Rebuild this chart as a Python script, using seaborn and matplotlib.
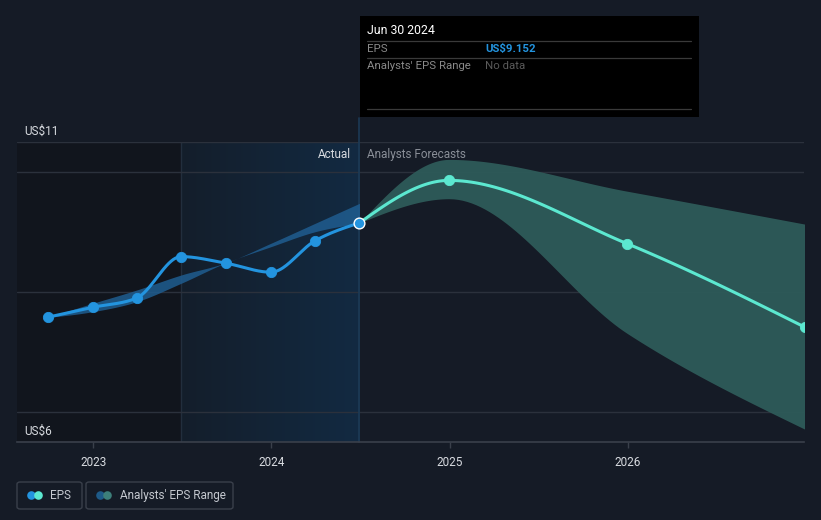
import numpy as np
import pandas as pd
import matplotlib
matplotlib.use("Agg")
import matplotlib.pyplot as plt
import seaborn as sns
from matplotlib.patches import FancyBboxPatch, Rectangle, Ellipse
from matplotlib.lines import Line2D
from matplotlib.colors import LinearSegmentedColormap

# ---------------- data ----------------
actual_dates = ["2022-09-30", "2022-12-31", "2023-03-31", "2023-06-30",
                "2023-09-30", "2023-12-31", "2024-03-31", "2024-06-30"]
actual_eps = [7.58, 7.745, 7.90, 8.59, 8.48, 8.33, 8.855, 9.152]

past_low = [7.578, 7.672, 7.838, 8.145, 8.488, 8.755, 9.005, 9.145]
past_high = [7.578, 7.812, 8.033, 8.283, 8.488, 8.812, 9.145, 9.478]

forecast_dates = ["2024-06-30", "2024-12-31", "2025-12-31", "2026-12-31"]
forecast_eps = [9.152, 9.86, 8.805, 7.41]
forecast_low = [9.152, 9.555, 7.31, 5.71]
forecast_high = [9.152, 10.21, 9.68, 9.13]

year_ticks = [2023, 2024, 2025, 2026]
y_labels = ["US$11", "US$6"]

# ---------------- helpers ----------------
def to_year(dates):
    ts = pd.to_datetime(pd.Series(dates))
    days = np.where(ts.dt.is_leap_year, 366, 365)
    return (ts.dt.year + (ts.dt.dayofyear - 1) / days).to_numpy(dtype=float)


def monotone(x, y, n=40):
    x = np.asarray(x, float)
    y = np.asarray(y, float)
    h = np.diff(x)
    d = np.diff(y) / h
    m = np.zeros(len(x))
    for i in range(1, len(x) - 1):
        if d[i - 1] * d[i] <= 0:
            m[i] = 0.0
        else:
            p = (d[i - 1] * h[i] + d[i] * h[i - 1]) / (h[i - 1] + h[i])
            m[i] = (np.sign(d[i - 1]) + np.sign(d[i])) * min(abs(d[i - 1]), abs(d[i]), 0.5 * abs(p))
    m[0] = (3 * d[0] - m[1]) / 2 if len(x) > 2 else d[0]
    m[-1] = (3 * d[-1] - m[-2]) / 2 if len(x) > 2 else d[-1]
    xs, ys = [], []
    for i in range(len(x) - 1):
        t = np.linspace(0, 1, n, endpoint=(i == len(x) - 2))
        h00 = 2 * t**3 - 3 * t**2 + 1
        h10 = t**3 - 2 * t**2 + t
        h01 = -2 * t**3 + 3 * t**2
        h11 = t**3 - t**2
        xs.append(x[i] + t * h[i])
        ys.append(h00 * y[i] + h10 * h[i] * m[i] + h01 * y[i + 1] + h11 * h[i] * m[i + 1])
    return np.concatenate(xs), np.concatenate(ys)


# ---------------- style ----------------
BG = "#151b26"
DARK = "#11151d"
GRID = "#2b313c"
BLUE = "#2394df"
TEAL = "#5ce8d0"
TXT = "#d8dbe0"
GREY = "#8a8f98"

sns.set_theme(style="dark")
plt.rcParams["font.family"] = ["Roboto", "DejaVu Sans"]

W, H = 821, 520
fig = plt.figure(figsize=(W / 100, H / 100), dpi=100, facecolor=BG)
ax = fig.add_axes([17 / W, (H - 442) / H, (804 - 17) / W, 300 / H])
ax.set_facecolor(BG)

x_min, x_max = 2022.572, 2026.99
ax.set_xlim(x_min, x_max)
ax.set_ylim(5.5, 10.5)

xa = to_year(actual_dates)
xf = to_year(forecast_dates)
split = xa[-1]
region_start = xa[3]

# background regions
ax.axvspan(x_min, region_start, color=DARK, zorder=0.1, lw=0)
grad = np.linspace(0, 1, 256).reshape(1, -1)
cmap = LinearSegmentedColormap.from_list("g", ["#141e2b", "#122a42"])
ax.imshow(grad, extent=[region_start, split, 5.5, 10.5], aspect="auto",
          cmap=cmap, zorder=0.2, interpolation="bilinear")
ax.axvline(region_start, color="#222e3d", lw=1, zorder=0.3)

# gridlines
for gy in [6, 8, 10, 10.5]:
    ax.axhline(gy, color=GRID, lw=1, zorder=0.5)

# vertical "today" line extending to tooltip
ax.add_line(Line2D([split, split], [5.5, 10.5 + 24 / 60], color="#1c3a56", lw=1.2,
                   zorder=0.6, clip_on=False))

# past analyst range band
bx, bl = monotone(xa, past_low)
_, bh = monotone(xa, past_high)
ax.fill_between(bx, bl, bh, color="#1f5d90", alpha=0.85, lw=0, zorder=1)

# forecast range band
fx, fl = monotone(xf, forecast_low)
_, fh = monotone(xf, forecast_high)
ax.fill_between(fx, fl, fh, color="#2e5b59", alpha=0.95, lw=0, zorder=1)

# lines
lx, ly = monotone(xa, actual_eps)
sns.lineplot(x=lx, y=ly, ax=ax, color=BLUE, lw=2.2, zorder=3, sort=False)
sns.scatterplot(x=xa[:-1], y=actual_eps[:-1], ax=ax, color=BLUE, s=55,
                edgecolor=BLUE, zorder=4)
gx, gyv = monotone(xf, forecast_eps)
sns.lineplot(x=gx, y=gyv, ax=ax, color=TEAL, lw=2.2, zorder=3, sort=False)
sns.scatterplot(x=xf[1:], y=forecast_eps[1:], ax=ax, color=TEAL, s=55,
                edgecolor=TEAL, zorder=4)
sns.scatterplot(x=[xa[-1]], y=[actual_eps[-1]], ax=ax, color=BLUE, s=60,
                edgecolor="white", linewidth=1.0, zorder=5)

# axes styling
ax.set_yticks([])
ax.set_xticks(year_ticks)
ax.set_xticklabels([str(y) for y in year_ticks], color=TXT, fontsize=8.5)
ax.tick_params(axis="x", length=4, width=1, color="#3a404b", pad=6, bottom=True)
for s in ["top", "left", "right"]:
    ax.spines[s].set_visible(False)
ax.spines["bottom"].set_color("#3a404b")
ax.spines["bottom"].set_linewidth(1.2)
ax.grid(False)
ax.set_xlabel("")
ax.set_ylabel("")

# y labels
fig.text(24 / W, 1 - 131 / H, y_labels[0], color=TXT, fontsize=8.5, va="center", ha="left")
fig.text(24 / W, 1 - 431 / H, y_labels[1], color=TXT, fontsize=8.5, va="center", ha="left")

# Actual / Analysts Forecasts
fig.text(351 / W, 1 - 154 / H, "Actual", color=TXT, fontsize=8.5, va="center", ha="right")
fig.text(367 / W, 1 - 154 / H, "Analysts Forecasts", color=GREY, fontsize=8.5, va="center", ha="left")

# tooltip
fig.patches.append(Rectangle((360 / W, 1 - 117 / H), (699 - 360) / W, 101 / H,
                             transform=fig.transFigure, facecolor="#000000",
                             edgecolor="none", zorder=5))
for ly_ in [41, 58, 109]:
    fig.lines.append(Line2D([367 / W, 691 / W], [1 - ly_ / H] * 2, transform=fig.transFigure,
                            color="#3a3a3a", lw=0.9, zorder=6))
fig.text(367 / W, 1 - 31 / H, "Jun 30 2024", color="white", fontsize=8.8, va="center",
         ha="left", zorder=7)
fig.text(367 / W, 1 - 49 / H, "EPS", color="#8a8a8a", fontsize=8.2, va="center", ha="left", zorder=7)
fig.text(485 / W, 1 - 49 / H, "US$9.152", color=BLUE, fontsize=8.2, va="center", ha="left",
         fontweight="bold", zorder=7)
fig.text(367 / W, 1 - 66 / H, "Analysts' EPS Range", color="#8a8a8a", fontsize=8.2, va="center",
         ha="left", zorder=7)
fig.text(485 / W, 1 - 66 / H, "No data", color="#5a5a5a", fontsize=8.2, va="center", ha="left",
         zorder=7)

# legend boxes
def legend_box(x0, x1, c1, c2, label, tx):
    fig.patches.append(FancyBboxPatch((x0 / W, 1 - 509 / H), (x1 - x0) / W, 27 / H,
                                      boxstyle="round,pad=0,rounding_size=0.004",
                                      transform=fig.transFigure, facecolor="none",
                                      edgecolor="#3a404b", lw=1))
    for cx, c in [(x0 + 14.5, c1), (x0 + 21.5, c2)]:
        fig.patches.append(Ellipse((cx / W, 1 - 495.5 / H), 8.6 / W, 8.6 / H,
                                   transform=fig.transFigure, facecolor=c, edgecolor="none"))
    fig.text(tx / W, 1 - 495.5 / H, label, color="#c4c8cf", fontsize=8.5, va="center", ha="left")

legend_box(17, 82, BLUE, TEAL, "EPS", 50)
legend_box(86, 233, "#1e5a88", "#3d7f7a", "Analysts' EPS Range", 120)

fig.savefig("out.png", dpi=100, facecolor=BG)
